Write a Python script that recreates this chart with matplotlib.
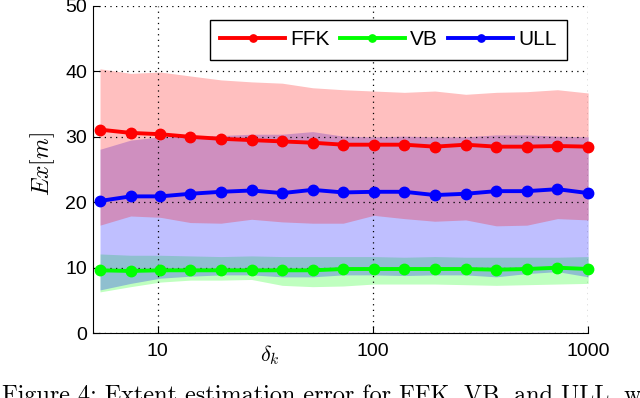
import matplotlib
matplotlib.use("Agg")
import matplotlib.pyplot as plt
from matplotlib.ticker import FixedLocator, FixedFormatter, NullLocator

plt.rcParams['font.family'] = ['Liberation Sans', 'DejaVu Sans']
plt.rcParams['mathtext.fontset'] = 'cm'

# delta_k values (log spaced)
delta = [5.4, 7.5, 10.3, 14.2, 19.7, 27.3, 37.9, 52.5, 72.8, 101,
         140, 194, 270, 374, 519, 720, 1000]

ffk = [31.1, 30.6, 30.4, 30.0, 29.7, 29.5, 29.3, 29.1, 28.8, 28.8,
       28.8, 28.5, 28.8, 28.5, 28.5, 28.6, 28.5]
vb = [9.6, 9.5, 9.6, 9.6, 9.6, 9.6, 9.6, 9.6, 9.8, 9.8,
      9.8, 9.8, 9.8, 9.7, 9.8, 10.0, 9.8]
ull = [20.2, 20.9, 20.9, 21.3, 21.6, 21.8, 21.4, 21.9, 21.5, 21.6,
       21.6, 21.1, 21.3, 21.7, 21.7, 22.0, 21.4]

ffk_hi = [40.4, 39.7, 39.9, 39.3, 38.7, 38.4, 38.2, 37.5, 37.2, 37.0,
          36.8, 37.0, 36.5, 36.8, 36.9, 37.2, 36.7]
ffk_lo = [16.5, 17.9, 17.7, 16.9, 16.8, 17.4, 17.0, 16.8, 16.8, 18.0,
          17.5, 17.1, 17.3, 16.4, 16.5, 17.5, 17.3]
ull_hi = [28.1, 29.5, 30.0, 30.1, 30.2, 30.4, 30.4, 30.8, 30.1, 30.0,
          30.1, 30.0, 30.0, 30.3, 30.3, 30.1, 30.0]
ull_lo = [6.6, 7.6, 8.4, 8.7, 8.9, 8.9, 8.6, 8.6, 8.9, 8.9,
          8.8, 8.9, 8.9, 8.6, 9.1, 9.4, 8.6]
vb_hi = [12.1, 11.9, 11.9, 11.8, 11.7, 11.8, 11.7, 11.7, 11.7, 11.7,
         11.6, 11.7, 11.6, 11.6, 11.6, 11.6, 11.7]
vb_lo = [6.3, 7.1, 7.8, 8.1, 8.1, 8.2, 7.3, 7.1, 7.2, 7.5,
         7.5, 7.5, 7.4, 7.3, 7.4, 7.5, 7.6]

xticks = [10, 100, 1000]
xtick_labels = ['10', '100', '1000']
yticks = [0, 10, 20, 30, 40, 50]

fig = plt.figure(figsize=(6.4, 3.98), dpi=100)
ax = fig.add_axes([0.145, 0.163, 0.774, 0.822])

# shaded bands: green, blue, red
ax.fill_between(delta, vb_lo, vb_hi, color=(0, 1, 0), alpha=0.25, lw=0, zorder=1)
ax.fill_between(delta, ull_lo, ull_hi, color=(0, 0, 1), alpha=0.25, lw=0, zorder=1)
ax.fill_between(delta, ffk_lo, ffk_hi, color=(1, 0, 0), alpha=0.25, lw=0, zorder=1)

ax.plot(delta, ffk, '-o', color=(1, 0, 0), lw=2.8, ms=7.5, label='FFK', zorder=3, clip_on=False)
ax.plot(delta, vb, '-o', color=(0, 1, 0), lw=2.8, ms=7.5, label='VB', zorder=3, clip_on=False)
ax.plot(delta, ull, '-o', color=(0, 0, 1), lw=2.8, ms=7.5, label='ULL', zorder=3, clip_on=False)

ax.set_xscale('log')
ax.set_xlim(5, 1000)
ax.set_ylim(0, 50)
ax.xaxis.set_major_locator(FixedLocator(xticks))
ax.xaxis.set_major_formatter(FixedFormatter(xtick_labels))
ax.xaxis.set_minor_locator(NullLocator())
ax.set_yticks(yticks)

ax.set_axisbelow(False)
ax.grid(True, color='black', linestyle=(0, (1, 3.5)), linewidth=0.9, zorder=2)
ax.spines['top'].set_visible(False)
ax.spines['right'].set_visible(False)
ax.tick_params(direction='in', length=5, width=0.8, labelsize=14, colors='black')
ax.tick_params(axis='x', pad=7)
ax.tick_params(axis='y', pad=4)

ax.set_ylabel(r'$Ex[m]$', fontsize=17)
ax.yaxis.set_label_coords(-0.072, 0.517)
ax.set_xlabel(r'$\delta_k$', fontsize=16)
ax.xaxis.set_label_coords(0.358, -0.03)

leg = ax.legend(loc='upper right', bbox_to_anchor=(0.957, 0.957), ncol=3,
                fontsize=15, numpoints=1, markerscale=0.7, handlelength=3.1,
                handletextpad=0.25, columnspacing=0.5, borderpad=0.5,
                borderaxespad=0, fancybox=False, framealpha=1)
leg.get_frame().set_edgecolor('black')
leg.get_frame().set_linewidth(1.0)

fig.text(0.003, -0.011, 'Figure 4: Extent estimation error for FFK, VB, and ULL, with',
         family=['cmr10', 'DejaVu Serif'], fontsize=17.4, va='baseline', ha='left')

fig.savefig('out.png', dpi=100)
